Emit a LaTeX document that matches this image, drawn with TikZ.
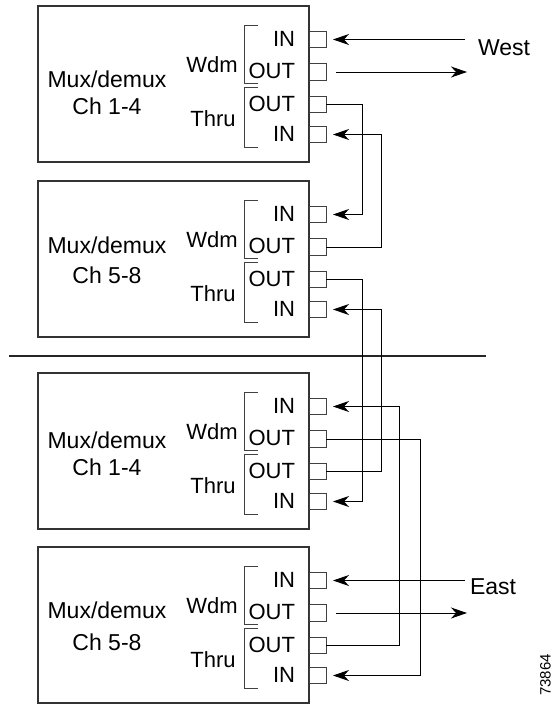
\documentclass[tikz,border=0pt]{standalone}
\usepackage{fontspec}
\setmainfont{Liberation Sans}
\usetikzlibrary{arrows.meta}
\begin{document}
\begin{tikzpicture}[x=1pt,y=-1pt,
  txt/.style={font=\fontsize{22}{26}\selectfont, inner sep=0pt, outer sep=0pt},
  big/.style={font=\fontsize{23}{27}\selectfont, inner sep=0pt, outer sep=0pt},
  mbox/.style={draw=black!80, line width=1.2pt, minimum width=271pt, minimum height=156pt, inner sep=0pt, outer sep=0pt, anchor=north west},
  port/.style={draw=black!75, line width=1pt, minimum width=17pt, minimum height=16.5pt, inner sep=0pt, outer sep=0pt},
  brk/.style={draw=black!75, line width=1pt},
  wire/.style={line width=1pt, draw=black},
  tip/.style={-{Stealth[length=16pt,width=11pt,inset=5pt]}},
  sep/.style={line width=2pt, draw=black!85}
]
\useasboundingbox (0,0) rectangle (553,704);
\foreach \i/\t/\ch/\mb/\cb in {1/6/1-4/81/108.6, 2/181/5-8/72.6/102.6, 3/373/1-4/75/102.3, 4/547/5-8/71.6/103.3}{
  \node[mbox] (b\i) at (38,\t) {};
  \node[big, anchor=base] (b\i-mux) at (107,\t+\mb) {Mux/demux};
  \node[big, anchor=base] (b\i-ch) at (107,\t+\cb) {Ch \ch};
  \node[txt, anchor=base] (b\i-wdm) at (212,\t+66.5) {Wdm};
  \node[txt, anchor=base] (b\i-thru) at (213,\t+120.5) {Thru};
  \draw[brk] (257.5,\t+19) -- (244,\t+19) -- (244,\t+77.5) -- (257.5,\t+77.5);
  \draw[brk] (257.5,\t+81.5) -- (244,\t+81.5) -- (244,\t+141) -- (257.5,\t+141);
  \node[port] (b\i-wi) at (317.5,\t+33.5) {};
  \node[port] (b\i-wo) at (317.5,\t+66) {};
  \node[port] (b\i-to) at (317.5,\t+98.5) {};
  \node[port] (b\i-ti) at (317.5,\t+128.5) {};
  \node[txt, anchor=base east] (b\i-wil) at (295,\t+40) {IN};
  \node[txt, anchor=base east] (b\i-wol) at (295,\t+72.5) {OUT};
  \node[txt, anchor=base east] (b\i-tol) at (295,\t+105) {OUT};
  \node[txt, anchor=base east] (b\i-til) at (295,\t+135) {IN};
}
% separator
\coordinate (sepL) at (9,356);
\coordinate (sepR) at (486,356);
\draw[sep] (sepL) -- (sepR);
% interconnections
\draw[wire,tip,shorten >=7pt] (b1-to.east) -| ([xshift=36pt]b2-wi.east) -- (b2-wi.east);
\draw[wire,tip,shorten >=7pt] (b2-wo.east) -| ([xshift=55pt]b1-ti.east) -- (b1-ti.east);
\draw[wire,tip,shorten >=7pt] (b2-to.east) -| ([xshift=36pt]b3-ti.east) -- (b3-ti.east);
\draw[wire,tip,shorten >=7pt] (b3-to.east) -| ([xshift=55pt]b2-ti.east) -- (b2-ti.east);
\draw[wire,tip,shorten >=7pt] (b4-to.east) -| ([xshift=73pt]b3-wi.east) -- (b3-wi.east);
\draw[wire,tip,shorten >=7pt] (b3-wo.east) -| ([xshift=94pt]b4-ti.east) -- (b4-ti.east);
% West
\coordinate (wIn) at (465,39.5);
\coordinate (wOut) at (467,72);
\draw[wire,tip,shorten >=7pt] (wIn) -- (b1-wi.east);
\draw[wire,tip,shorten <=10pt] (b1-wo.east) -- (wOut);
\node[big, anchor=base west] (west) at (478,55.3) {West};
% East
\coordinate (eIn) at (465,580.5);
\coordinate (eOut) at (467,613);
\draw[wire,tip,shorten >=7pt] (eIn) -- (b4-wi.east);
\draw[wire,tip,shorten <=10pt] (b4-wo.east) -- (eOut);
\node[big, anchor=base west] (east) at (470,594.5) {East};
% figure number
\node[font=\fontsize{15}{18}\selectfont, inner sep=0pt, rotate=90] (fig) at (545.5,675) {73864};
\end{tikzpicture}
\end{document}
